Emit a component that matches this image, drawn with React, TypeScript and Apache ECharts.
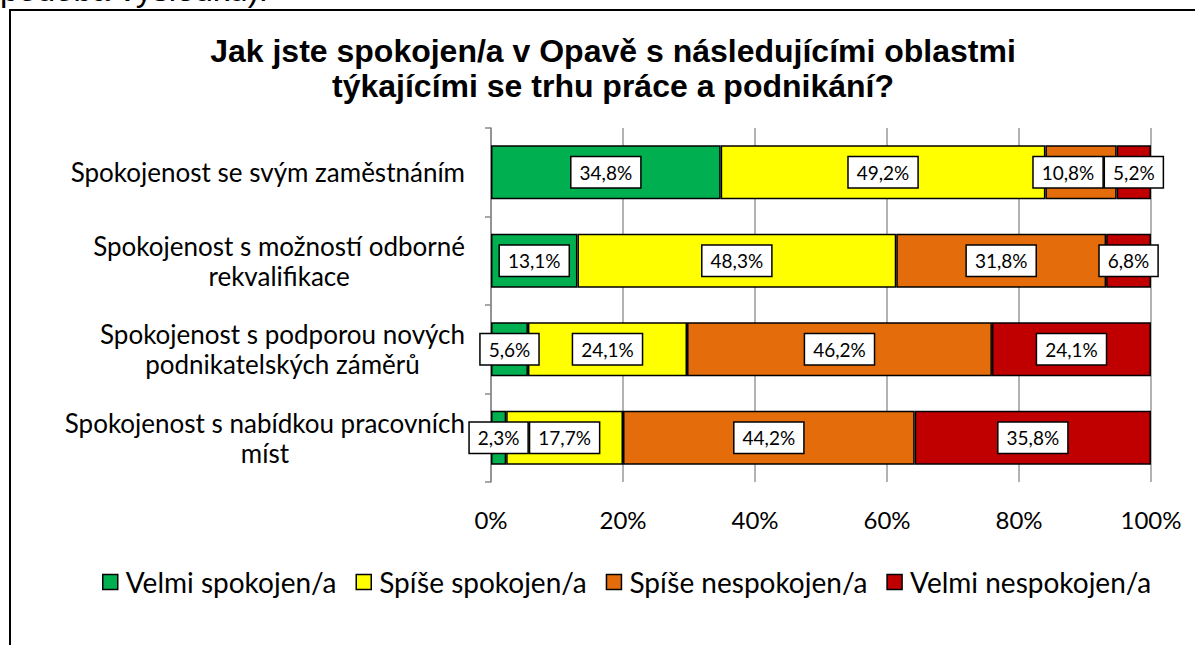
import React, { useEffect, useRef } from "react";
import * as echarts from "echarts";

const categories = [
  "Spokojenost se svým zaměstnáním",
  "Spokojenost s možností odborné\nrekvalifikace",
  "Spokojenost s podporou nových\npodnikatelských záměrů",
  "Spokojenost s nabídkou pracovních\nmíst",
];
const seriesNames = ["Velmi spokojen/a", "Spíše spokojen/a", "Spíše nespokojen/a", "Velmi nespokojen/a"];
const velmiSpokojen = [34.8, 13.1, 5.6, 2.3];
const spiseSpokojen = [49.2, 48.3, 24.1, 17.7];
const spiseNespokojen = [10.8, 31.8, 46.2, 44.2];
const velmiNespokojen = [5.2, 6.8, 24.1, 35.8];
const colors = ["#00B050", "#FFFF00", "#E46C0A", "#C00000"];
const xTicks = [0, 20, 40, 60, 80, 100];
const titleText = "Jak jste spokojen/a v Opavě s následujícími oblastmi\ntýkajícími se trhu práce a podnikání?";
const topText = "podoba výsledků).";

const FONT = "Lato";

export default function App() {
  const ref = useRef<HTMLDivElement>(null);
  useEffect(() => {
    if (!ref.current) return;
    const chart = echarts.init(ref.current, null, { renderer: "svg" });
    const values = [velmiSpokojen, spiseSpokojen, spiseNespokojen, velmiNespokojen];
    chart.setOption({
      animation: false,
      backgroundColor: "#fff",
      graphic: [
        {
          type: "rect",
          shape: { x: 10, y: 10, width: 1200, height: 700 },
          style: { fill: "none", stroke: "#000", lineWidth: 2 },
          silent: true,
        },
        {
          type: "text",
          x: 0,
          y: -27,
          style: { text: topText, font: "33px 'Liberation Sans'", fill: "#000" },
        },
      ],
      title: {
        text: titleText,
        left: 608,
        top: 28,
        textAlign: "center",
        textStyle: {
          fontFamily: "Liberation Sans",
          fontWeight: "bold",
          fontSize: 32,
          lineHeight: 35,
          color: "#000",
        },
      },
      legend: {
        data: seriesNames,
        left: 102,
        top: 568,
        padding: 0,
        icon: "rect",
        itemWidth: 15,
        itemHeight: 15,
        itemGap: 19,
        itemStyle: { borderColor: "#000", borderWidth: 1.5 },
        textStyle: { fontFamily: FONT, fontSize: 28, color: "#000", padding: [0, 0, 0, 3] },
      },
      grid: { left: 491, right: 44, top: 128, bottom: 163, containLabel: false },
      xAxis: {
        type: "value",
        min: 0,
        max: 100,
        interval: 20,
        axisLine: { show: false },
        axisTick: { show: false },
        splitLine: { show: true, lineStyle: { color: "#9a9a9a", width: 1.5 } },
        axisLabel: {
          margin: 25,
          fontFamily: FONT,
          fontSize: 24,
          color: "#000",
          formatter: (v: number) => (xTicks.includes(v) ? v + "%" : ""),
        },
      },
      yAxis: {
        type: "category",
        data: categories,
        inverse: true,
        axisLine: { show: true, lineStyle: { color: "#8a8a8a", width: 1.5 } },
        axisTick: { show: true, length: 6, lineStyle: { color: "#8a8a8a", width: 1.5 } },
        axisLabel: {
          margin: 26,
          align: "right",
          color: "#000",
          fontFamily: FONT,
          fontSize: 26,
          formatter: (v: string) => v.split("\n").map((l) => `{c|${l}}`).join("\n"),
          rich: {
            c: { align: "center", fontFamily: FONT, fontSize: 26, lineHeight: 30, color: "#000" },
          },
        },
      },
      series: seriesNames.map((name, i) => ({
        name,
        type: "bar",
        stack: "total",
        barWidth: "61%",
        data: values[i],
        itemStyle: { color: colors[i], borderColor: "#000", borderWidth: 1.5 },
        labelLayout:
          i === 2 ? (p: any) => (p.dataIndex === 0 ? { dx: -13 } : {}) : undefined,
        label: {
          show: true,
          position: "inside",
          formatter: (p: any) => p.value.toFixed(1).replace(".", ",") + "%",
          backgroundColor: "#fff",
          borderColor: "#000",
          borderWidth: 1.5,
          padding: [6, 8, 5, 8],
          color: "#000",
          fontFamily: FONT,
          fontSize: 19,
        },
      })),
    });
    return () => chart.dispose();
  }, []);
  return (
    <div
      ref={ref}
      style={{ position: "fixed", left: 0, top: 0, width: 1195, height: 645 }}
    />
  );
}
